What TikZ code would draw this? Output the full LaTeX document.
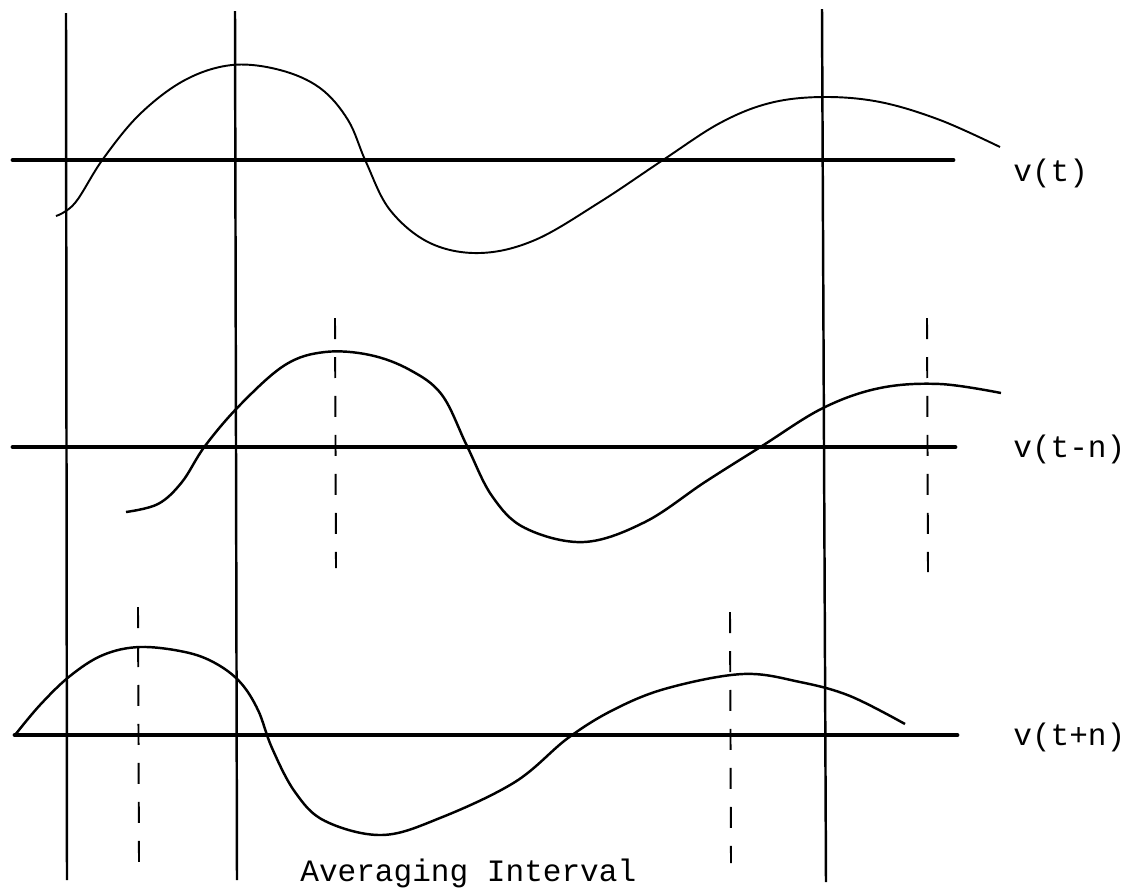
\documentclass[tikz,border=0pt]{standalone}
\usepackage{fontspec}
\setmonofont{Liberation Mono}
\usepackage{tikz}
\usetikzlibrary{positioning}

\tikzset{
  axisline/.style={line width=2.8pt, line cap=round},
  boundline/.style={line width=1.4pt},
  lagline/.style={line width=1.1pt, dash pattern=on 0.42cm off 0.36cm},
  wave/.style={line width=1.4pt, smooth, tension=0.6},
  lbl/.style={font=\fontsize{17.7}{20}\selectfont\ttfamily, inner sep=0pt, anchor=west}
}

\begin{document}
\begin{tikzpicture}[x=0.02cm, y=-0.02cm]
  \useasboundingbox (0,0) rectangle (1130,894);

  % zero lines
  \draw[axisline] (13,160) -- (953,160);
  \draw[axisline] (13,447) -- (955,447);
  \draw[axisline] (15,735) -- (957,735);

  % interval bounds
  \draw[boundline] (66,13) -- (67,880);
  \draw[boundline] (235,11) -- (237,880);
  \draw[boundline] (822,9) -- (826,882);

  % shifted bounds
  \draw[lagline] (335,318) -- (336,568);
  \draw[lagline] (927,318) -- (928,572);
  \draw[lagline] (138,607) -- (139,862);
  \draw[lagline] (730,612) -- (731,863);

  % v(t)
  \draw[wave, line width=1.1pt] plot coordinates {(56,216) (75,203)
    (103,159) (140,114) (185,80) (232,65) (280,70) (320,88) (348,120)
    (366,162) (390,210) (430,243) (480,253) (535,240) (600,202) (663,160)
    (720,123) (770,103) (823,97) (880,102) (940,120) (1000,147)};

  % v(t-n)
  \draw[wave] plot coordinates {(126,512) (158,504) (182,482) (205,446)
    (240,405) (285,365) (325,352) (370,355) (410,370) (442,395) (467,446)
    (492,496) (525,528) (584,542) (645,522) (705,482) (762,446) (823,408)
    (880,388) (940,384) (1001,393)};

  % v(t+n)
  \draw[wave] plot coordinates {(15,735) (40,705) (70,676) (103,655)
    (140,647) (185,652) (215,663) (240,682) (258,710) (272,748) (295,792)
    (325,821) (382,835) (440,818) (515,782) (568,738) (615,709)
    (668,688) (743,674) (800,682) (850,696) (905,724)};

  % labels
  \node[lbl] (vt) at (1013,173) {v(t)};
  \node[lbl] (vtminus) at (1013,449) {v(t-n)};
  \node[lbl] (vtplus) at (1013,737) {v(t+n)};
  \node[lbl] (avg) at (300,873) {Averaging Interval};
\end{tikzpicture}
\end{document}
